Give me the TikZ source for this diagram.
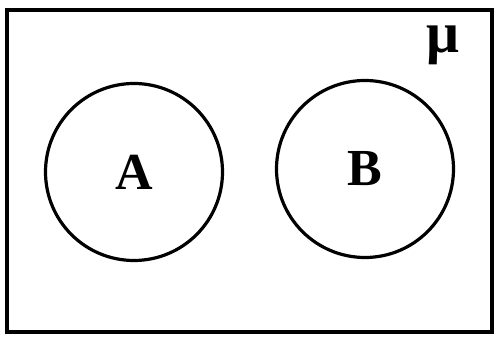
\documentclass[tikz,border=0pt]{standalone}
\usepackage{fontspec}
\setmainfont{Liberation Serif}
\usepackage{tikz}

\begin{document}
\begin{tikzpicture}[x=1pt, y=1pt]

    \useasboundingbox (0,0) rectangle (498,337);

    % Universal set
    \draw[line width=4pt] (7,5) rectangle (492,327);
    \node (mu) at (443,292) {\fontsize{58}{58}\selectfont\bfseries μ};

    % Sets A and B
    \node[draw, circle, line width=3.2pt, minimum size=177pt, inner sep=0pt,
          font=\fontsize{52}{52}\selectfont\bfseries] (A) at (134,165) {A};
    \node[draw, circle, line width=3.2pt, minimum size=177pt, inner sep=0pt,
          font=\fontsize{52}{52}\selectfont\bfseries] (B) at (365,168) {B};

\end{tikzpicture}
\end{document}
